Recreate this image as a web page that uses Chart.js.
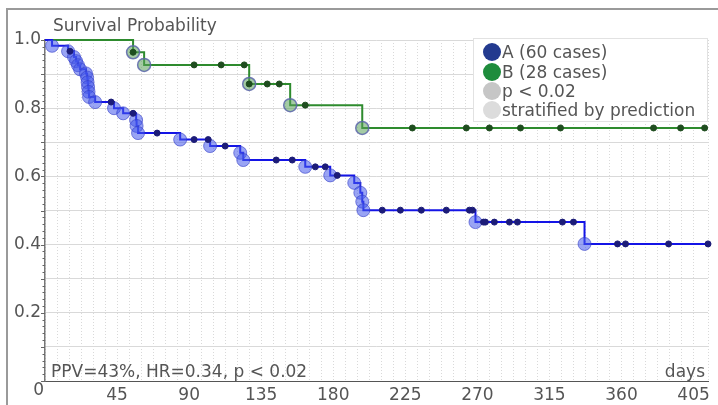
<!DOCTYPE html>
<html>
<head>
<meta charset="utf-8">
<script src="https://cdn.jsdelivr.net/npm/chart.js@4.4.1/dist/chart.umd.min.js"></script>
<style>
  body { margin: 0; background: #fff; }
  #wrap { position: relative; width: 718px; height: 405px; }
</style>
</head>
<body>
<div id="wrap"><canvas id="km" width="718" height="405"></canvas></div>
<script>
// group A (blue) - event days and survival right after each event
const aEventDays = [4.4, 14.4, 18.1, 19.4, 20.6, 21.9, 25.6, 26.3, 26.6, 26.9, 27.2, 27.5, 31.3, 43.1, 48.8,
  56.9, 57.2, 58.1, 84.4, 103.1, 121.9, 123.8, 162.5, 178.1, 193.1, 196.9, 198.1, 198.8, 268.8, 336.9];
const aEventSurv = [0.983, 0.967, 0.95, 0.938, 0.926, 0.914, 0.902, 0.89, 0.876, 0.862, 0.848, 0.833, 0.818, 0.80, 0.785,
  0.765, 0.748, 0.727, 0.708, 0.689, 0.669, 0.648, 0.628, 0.603, 0.581, 0.552, 0.526, 0.501, 0.466, 0.402];
const aCensorDays = [15.6, 41.3, 55, 70, 93.1, 101.9, 112.5, 144.4, 154.4, 168.8, 175, 182.5, 210.6, 221.9, 235,
  250.6, 265, 266.9, 273.8, 275, 280.6, 290, 295, 323.1, 330, 357.5, 362.5, 389.4, 414];

// group B (green)
const bEventDays = [55, 61.9, 127.5, 153.1, 198.1];
const bEventSurv = [0.964, 0.927, 0.871, 0.809, 0.742];
const bCensorDays = [55, 93.1, 110, 124.4, 127.5, 138.8, 146.3, 162.5, 229.4, 263.1, 277.5, 296.9, 321.9, 380, 396.9, 411.9];

const xTickLabels = [45, 90, 135, 180, 225, 270, 315, 360, 405];
const yTickLabels = [0.2, 0.4, 0.6, 0.8, 1.0];
const legendLabels = ['A (60 cases)', 'B (28 cases)', 'p < 0.02', 'stratified by prediction'];
const legendColors = ['#233a8f', '#1e8c3c', '#c6c6c6', '#dcdcdc'];
const xMax = 414;

const FONT = '"DejaVu Sans", Verdana, sans-serif';
const TEXT = '#555';

function survAt(days, surv, t) {
  let s = 1;
  for (let i = 0; i < days.length; i++) if (days[i] <= t) s = surv[i];
  return s;
}
function curve(days, surv, endDay) {
  const pts = [{ x: 0, y: 1 }];
  days.forEach((d, i) => pts.push({ x: d, y: surv[i] }));
  pts.push({ x: endDay, y: surv[surv.length - 1] });
  return pts;
}
function censors(days, surv, cDays) {
  return cDays.map(d => ({ x: d, y: survAt(days, surv, d) }));
}
function events(days, surv) {
  return days.map((d, i) => ({ x: d, y: surv[i] }));
}

const decor = {
  id: 'decor',
  beforeDraw(chart) {
    const c = chart.ctx;
    c.save();
    c.fillStyle = '#fff';
    c.fillRect(0, 0, chart.width, chart.height);
    c.strokeStyle = '#9a9a9a';
    c.lineWidth = 2;
    c.beginPath();
    c.moveTo(7, chart.height);
    c.lineTo(7, 9);
    c.lineTo(chart.width, 9);
    c.stroke();
    c.restore();
  },
  afterDraw(chart) {
    const c = chart.ctx;
    const a = chart.chartArea;
    const ys = chart.scales.y;
    c.save();
    // minor ticks on y axis
    c.strokeStyle = '#666';
    c.lineWidth = 1;
    for (let k = 0; k <= 50; k++) {
      const y = Math.round(ys.getPixelForValue(k / 50)) + 0.5;
      c.beginPath();
      c.moveTo(a.left - (k % 5 === 0 ? 4 : 2.5), y);
      c.lineTo(a.left, y);
      c.stroke();
    }
    c.font = '17px ' + FONT;
    c.fillStyle = TEXT;
    c.textBaseline = 'alphabetic';
    c.textAlign = 'left';
    c.fillText('Survival Probability', 53, 31);
    c.fillText('PPV=43%, HR=0.34, p < 0.02', 51, 377);
    c.textAlign = 'right';
    c.fillText('days', a.right - 3, 377);
    c.fillText('0', 44, 395);

    // legend
    c.fillStyle = '#fff';
    c.strokeStyle = '#e2e2e2';
    c.fillRect(473.5, 38.5, 234, 83);
    c.strokeRect(473.5, 38.5, 234, 83);
    const rows = [52, 72, 91, 110];
    legendLabels.forEach((t, i) => {
      c.beginPath();
      c.arc(492, rows[i], 9, 0, Math.PI * 2);
      c.fillStyle = legendColors[i];
      c.fill();
      c.fillStyle = TEXT;
      c.textAlign = 'left';
      c.fillText(t, 502, rows[i] + 6);
    });
    c.restore();
  }
};

new Chart(document.getElementById('km'), {
  type: 'scatter',
  data: {
    datasets: [
      {
        label: 'A censored',
        data: censors(aEventDays, aEventSurv, aCensorDays),
        pointRadius: 3, pointBackgroundColor: '#1c1c78', pointBorderColor: '#1c1c78',
        clip: false, order: 0
      },
      {
        label: 'B censored',
        data: censors(bEventDays, bEventSurv, bCensorDays),
        pointRadius: 3, pointBackgroundColor: '#1f4d1f', pointBorderColor: '#1f4d1f',
        clip: false, order: 0
      },
      {
        label: 'A events',
        data: events(aEventDays, aEventSurv),
        pointRadius: 6.5, pointBackgroundColor: 'rgba(70,90,235,0.55)', pointBorderColor: 'rgba(50,60,200,0.6)',
        pointBorderWidth: 1, order: 1
      },
      {
        label: 'B events',
        data: events(bEventDays, bEventSurv),
        pointRadius: 6.5, pointBackgroundColor: 'rgba(90,160,90,0.55)', pointBorderColor: 'rgba(90,100,170,0.85)',
        pointBorderWidth: 1.5, order: 1
      },
      {
        label: 'A',
        data: curve(aEventDays, aEventSurv, aCensorDays[aCensorDays.length - 1]),
        showLine: true, stepped: true, borderColor: '#1414e6', borderWidth: 2,
        pointRadius: 0, clip: false, order: 3
      },
      {
        label: 'B',
        data: curve(bEventDays, bEventSurv, bCensorDays[bCensorDays.length - 1]),
        showLine: true, stepped: true, borderColor: '#2e8b2e', borderWidth: 2,
        pointRadius: 0, clip: false, order: 3
      }
    ]
  },
  options: {
    responsive: false,
    animation: false,
    devicePixelRatio: 1,
    layout: { padding: { left: 5, right: 10, top: 40, bottom: 0 } },
    plugins: { legend: { display: false }, tooltip: { enabled: false } },
    scales: {
      x: {
        type: 'linear', min: 0, max: xMax,
        afterFit(s) { s.height = 24; },
        grid: { color: '#d9d9d9', drawTicks: false },
        border: { color: '#555', dash: [1, 2], width: 1 },
        ticks: {
          stepSize: 7.5, autoSkip: false, maxRotation: 0, padding: 4, color: TEXT,
          font: { family: FONT, size: 17 },
          callback: v => xTickLabels.includes(v) ? String(v) : ''
        }
      },
      y: {
        min: 0, max: 1,
        afterFit(s) { s.width = 40; },
        grid: { color: '#d9d9d9', drawTicks: false },
        border: { color: '#777', width: 1.5 },
        ticks: {
          stepSize: 0.1, autoSkip: false, padding: 4, color: TEXT,
          font: { family: FONT, size: 17 },
          callback: v => {
            const k = Math.round(v * 10);
            return yTickLabels.some(t => Math.round(t * 10) === k) ? (k / 10).toFixed(1) : '';
          }
        }
      }
    }
  },
  plugins: [decor]
});
</script>
</body>
</html>
